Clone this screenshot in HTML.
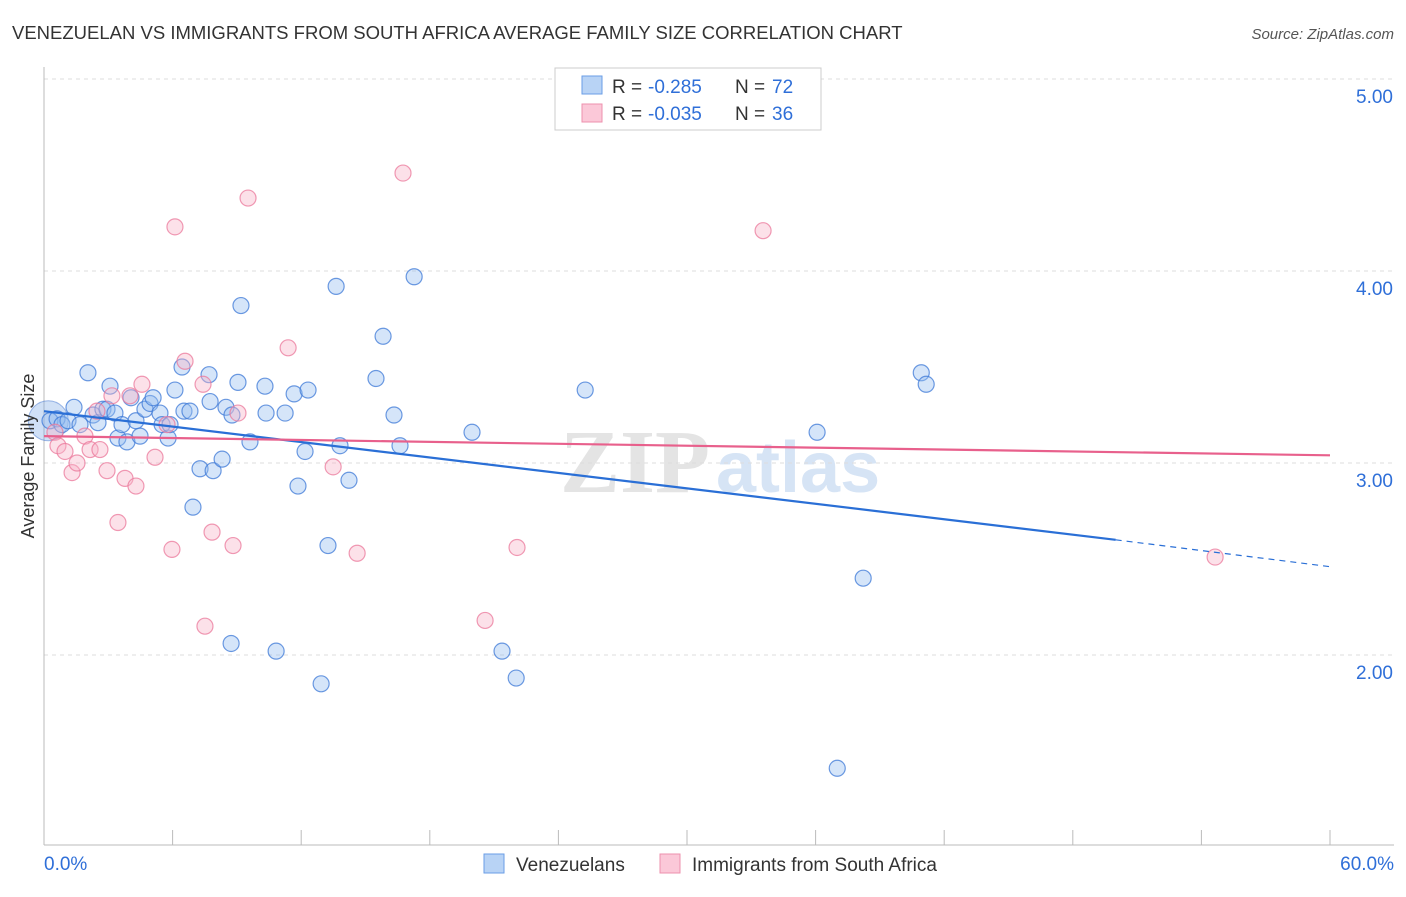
<!DOCTYPE html>
<html><head><meta charset="utf-8"><style>
body{margin:0;background:#fff;font-family:"Liberation Sans",sans-serif}
</style></head><body>
<svg id="c" width="1406" height="892" xmlns="http://www.w3.org/2000/svg">
<text x="12" y="39" font-size="18.5" fill="#333">VENEZUELAN VS IMMIGRANTS FROM SOUTH AFRICA AVERAGE FAMILY SIZE CORRELATION CHART</text>
<text x="1394" y="39" font-size="15" fill="#555" font-style="italic" text-anchor="end">Source: ZipAtlas.com</text>
<text x="560" y="492" font-size="90" fill="#e4e4e4" font-family="Liberation Serif" font-weight="bold">ZIP</text>
<text x="716" y="492" font-size="72" fill="#d6e4f5" font-weight="bold">atlas</text>
<g id="grid"></g><g id="axes"></g><g id="pts"></g><g id="lines"></g>
<text transform="translate(34,456) rotate(-90)" font-size="18" fill="#333" text-anchor="middle">Average Family Size</text>
<g>
<rect x="555" y="68" width="266" height="62" fill="#fff" stroke="#ccc"/>
<rect x="582" y="76" width="20" height="18" fill="#b8d3f5" stroke="#6a9ee6"/>
<rect x="582" y="104" width="20" height="18" fill="#fbc8d8" stroke="#ee90ae"/>
<text x="612" y="93" font-size="19" fill="#333">R =</text>
<text x="648" y="93" font-size="19" fill="#2f6fd8">-0.285</text>
<text x="735" y="93" font-size="19" fill="#333">N =</text>
<text x="772" y="93" font-size="19" fill="#2f6fd8">72</text>
<text x="612" y="120" font-size="19" fill="#333">R =</text>
<text x="648" y="120" font-size="19" fill="#2f6fd8">-0.035</text>
<text x="735" y="120" font-size="19" fill="#333">N =</text>
<text x="772" y="120" font-size="19" fill="#2f6fd8">36</text>
</g>
<g>
<rect x="484" y="854" width="20" height="19" fill="#b8d3f5" stroke="#6a9ee6"/>
<text x="516" y="871" font-size="19" fill="#333">Venezuelans</text>
<rect x="660" y="854" width="20" height="19" fill="#fbc8d8" stroke="#ee90ae"/>
<text x="692" y="871" font-size="19" fill="#333">Immigrants from South Africa</text>
</g>
<text x="44" y="870" font-size="19" fill="#2f6fd8">0.0%</text>
<text x="1394" y="870" font-size="19" fill="#2f6fd8" text-anchor="end">60.0%</text>
</svg>
<script>
const blueX=[0.28,0.61,0.84,1.12,1.40,1.68,2.05,2.29,2.52,2.75,2.94,3.08,3.31,3.45,3.64,3.87,4.06,4.29,4.48,4.71,4.95,5.09,5.41,5.51,5.79,5.88,6.11,6.44,6.53,6.81,6.95,7.28,7.70,7.75,7.89,8.31,8.49,8.73,8.77,9.05,9.19,9.61,10.31,10.36,10.83,11.25,11.67,11.85,12.18,12.32,12.93,13.25,13.63,13.81,14.23,15.49,15.82,16.33,16.61,17.27,19.97,21.37,22.03,25.25,36.07,37.01,38.22,40.93,41.16];
const blueY=[3.22,3.23,3.20,3.22,3.29,3.20,3.47,3.25,3.21,3.28,3.28,3.40,3.26,3.13,3.20,3.11,3.34,3.22,3.14,3.28,3.31,3.34,3.26,3.20,3.13,3.20,3.38,3.50,3.27,3.27,2.77,2.97,3.46,3.32,2.96,3.02,3.29,2.06,3.25,3.42,3.82,3.11,3.40,3.26,2.02,3.26,3.36,2.88,3.06,3.38,1.85,2.57,3.92,3.09,2.91,3.44,3.66,3.25,3.09,3.97,3.16,2.02,1.88,3.38,3.16,1.41,2.40,3.47,3.41];
const pinkX=[0.51,0.65,0.98,1.31,1.54,1.91,2.15,2.47,2.61,2.94,3.17,3.45,3.78,4.01,4.29,4.57,5.18,5.74,5.97,6.11,6.58,7.42,7.51,7.84,8.82,9.05,9.52,11.39,13.49,14.61,16.75,20.58,22.07,33.55,54.64];
const pinkY=[3.16,3.09,3.06,2.95,3.00,3.14,3.07,3.27,3.07,2.96,3.35,2.69,2.92,3.35,2.88,3.41,3.03,3.20,2.55,4.23,3.53,3.41,2.15,2.64,2.57,3.26,4.38,3.60,2.98,2.53,4.51,2.18,2.56,4.21,2.51];
const yTicks=[2,3,4,5];
const yTickLabels=["2.00","3.00","4.00","5.00"];
const blueLine=[3.27,2.60,2.46]; // y at x=0, 50, 60
const pinkLine=[3.14,3.04]; // y at x=0, 60
const X=v=>44+v/60*1286, Y=v=>79+(5-v)*192;
const NS="http://www.w3.org/2000/svg";
function mk(p,t,a){const e=document.createElementNS(NS,t);for(const k in a)e.setAttribute(k,a[k]);document.getElementById(p).appendChild(e);return e;}
yTicks.forEach((t,i)=>{
 let g=mk('grid','line',{x1:44,x2:1394,y1:Y(t),y2:Y(t),stroke:'#ddd','stroke-dasharray':'4,4'});
 
 
 let l=mk('grid','text',{x:1393,y:Y(t)+24,'font-size':19,fill:'#2f6fd8','text-anchor':'end'});
 l.textContent=yTickLabels[i];
 
 
});
let ax=mk('axes','line',{x1:44,x2:44,y1:67,y2:845,stroke:'#bbb'});


let bx=mk('axes','line',{x1:44,x2:1394,y1:845,y2:845,stroke:'#bbb'});


for(let i=0;i<=10;i++){let t=mk('axes','line',{x1:X(i*6),x2:X(i*6),y1:830,y2:845,stroke:'#bbb'});
 
 }
let bb=mk('pts','circle',{cx:X(0.2),cy:Y(3.22),r:20,fill:'rgba(120,165,230,0.35)',stroke:'rgba(70,120,210,0.5)'});


blueX.forEach((x,i)=>{let c=mk('pts','circle',{cx:X(x),cy:Y(blueY[i]),r:8,fill:'rgba(150,190,240,0.4)',stroke:'rgba(60,120,215,0.75)','stroke-width':1.2});
 
 });
pinkX.forEach((x,i)=>{let c=mk('pts','circle',{cx:X(x),cy:Y(pinkY[i]),r:8,fill:'rgba(248,180,200,0.4)',stroke:'rgba(235,120,155,0.75)','stroke-width':1.2});
 
 });
let l1=mk('lines','line',{x1:X(0),y1:Y(blueLine[0]),x2:X(50),y2:Y(blueLine[1]),stroke:'#2a6fd6','stroke-width':2.2});


let l2=mk('lines','line',{x1:X(50),y1:Y(blueLine[1]),x2:X(60),y2:Y(blueLine[2]),stroke:'#2a6fd6','stroke-width':1.2,'stroke-dasharray':'6,5'});


let l3=mk('lines','line',{x1:X(0),y1:Y(pinkLine[0]),x2:X(60),y2:Y(pinkLine[1]),stroke:'#e8608c','stroke-width':2.2});


</script>
</body></html>
